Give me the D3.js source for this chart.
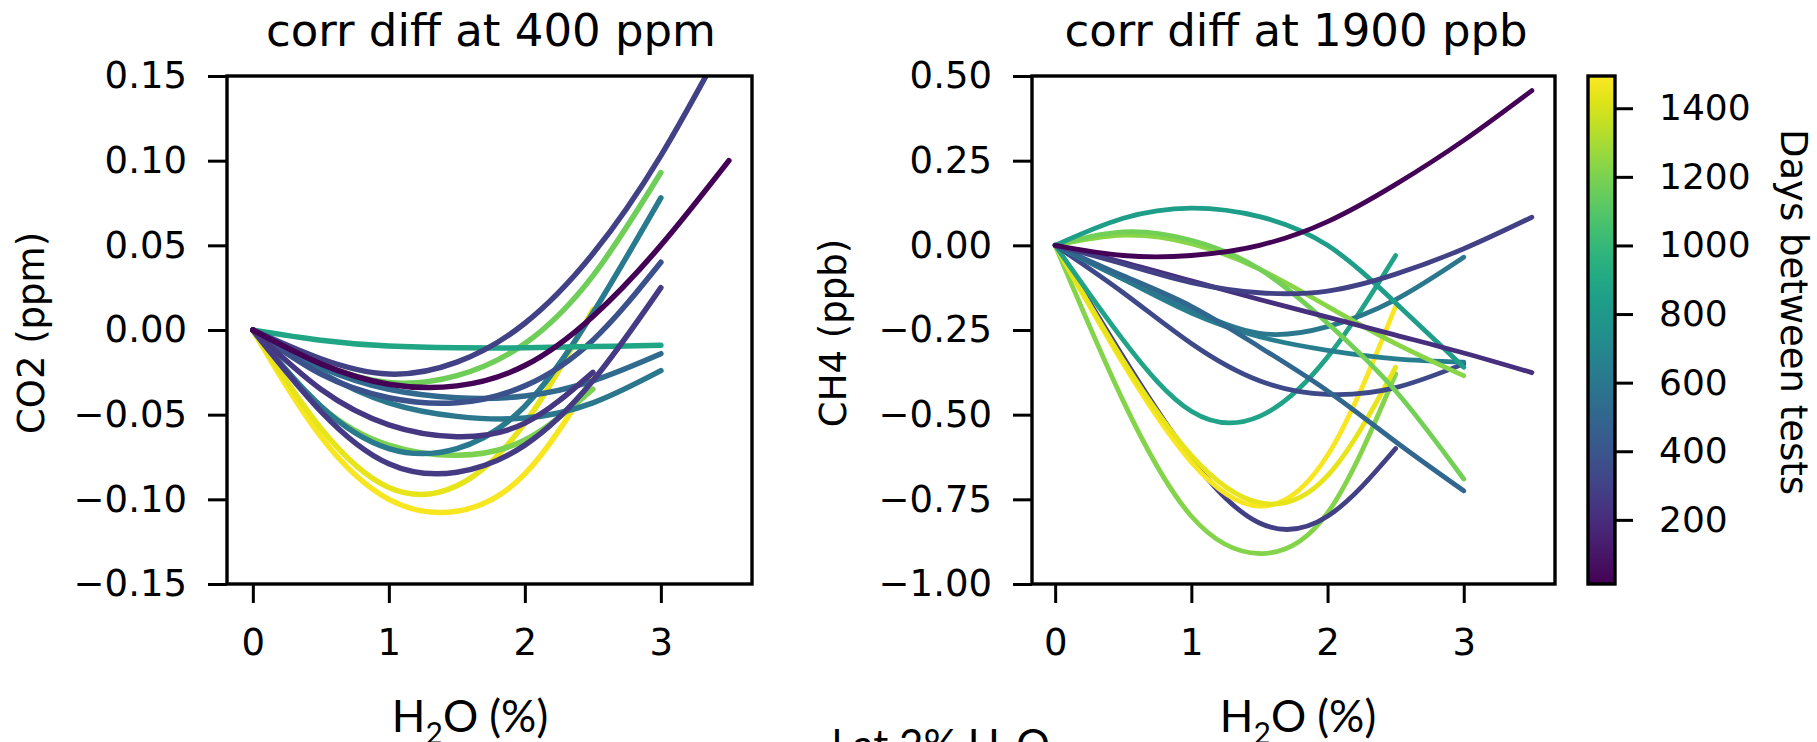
<!DOCTYPE html>
<html>
<head>
<meta charset="utf-8">
<script src="https://cdn.jsdelivr.net/npm/d3@7"></script>
<style>
body { margin: 0; background: #fff; }
svg { display: block; }
</style>
</head>
<body>
<svg></svg>
<script>
let width = 1817
let height = 742

// water steps the fits are read at (%)
let h2o = [0, 0.5, 1, 1.5, 2, 2.5, 3, 3.5]

// CO2 panel: days between tests and correction difference (ppm) at each h2o step
let co2Days = [1480, 1440, 1200, 1170, 620, 600, 520, 380, 890, 250, 270, 300, 20]
let co2Diff = [
    [0, -0.063, -0.100, -0.107, -0.085, -0.028],
    [0, -0.058, -0.093, -0.092, -0.055, 0.012],
    [0, -0.045, -0.068, -0.074, -0.065, -0.035],
    [0, -0.020, -0.031, -0.027, -0.008, 0.032, 0.093],
    [0, -0.045, -0.070, -0.070, -0.045, 0.010, 0.078],
    [0, -0.025, -0.043, -0.051, -0.052, -0.043, -0.024],
    [0, -0.022, -0.035, -0.040, -0.039, -0.030, -0.014],
    [0, -0.026, -0.040, -0.043, -0.033, -0.006, 0.040],
    [0, -0.006, -0.0095, -0.0105, -0.0105, -0.0098, -0.009],
    [0, -0.035, -0.056, -0.063, -0.055, -0.025],
    [0, -0.048, -0.079, -0.084, -0.068, -0.030, 0.025],
    [0, -0.017, -0.026, -0.019, 0.004, 0.045, 0.103, 0.175],
    [0, -0.020, -0.032, -0.033, -0.021, 0.008, 0.050, 0.100]
]

// CH4 panel: days between tests and correction difference (ppb)
let ch4Days = [1220, 290, 1480, 1440, 870, 340, 640, 600, 500, 1230, 1180, 830, 220, 300, 20]
let ch4Diff = [
    [0, -0.46, -0.80, -0.91, -0.79, -0.38],
    [0, -0.33, -0.63, -0.82, -0.80, -0.60],
    [0, -0.35, -0.64, -0.77, -0.62, -0.18],
    [0, -0.34, -0.62, -0.76, -0.68, -0.36],
    [0, -0.28, -0.49, -0.505, -0.33, -0.03],
    [0, -0.14, -0.29, -0.40, -0.44, -0.42, -0.35],
    [0, -0.10, -0.20, -0.27, -0.31, -0.335, -0.345],
    [0, -0.10, -0.19, -0.26, -0.24, -0.16, -0.035],
    [0, -0.09, -0.18, -0.30, -0.43, -0.58, -0.725],
    [0, 0.03, 0.005, -0.07, -0.18, -0.29, -0.385],
    [0, 0.04, 0.015, -0.07, -0.23, -0.43, -0.69],
    [0, 0.08, 0.11, 0.085, 0.0, -0.17, -0.36],
    [0, -0.05, -0.105, -0.16, -0.212, -0.265, -0.318, -0.376],
    [0, -0.055, -0.11, -0.14, -0.135, -0.085, -0.01, 0.083],
    [0, -0.03, -0.03, 0.0, 0.07, 0.18, 0.31, 0.457]
]

let h2oTicks = [0, 1, 2, 3]
let co2Ticks = [-0.15, -0.10, -0.05, 0, 0.05, 0.10, 0.15]
let ch4Ticks = [-1.0, -0.75, -0.5, -0.25, 0, 0.25, 0.5]
let dayTicks = [200, 400, 600, 800, 1000, 1200, 1400]
let dayRange = [13, 1494]

let svg = d3.select('svg').attr('width', width).attr('height', height)
let color = d3.scaleSequential(d3.interpolateViridis).domain(dayRange)
let mplFont = 'DejaVu Sans'

let drawPanel = (opt) => {
    let x = d3.scaleLinear().domain(opt.xDomain).range([opt.left, opt.right])
    let y = d3.scaleLinear().domain(opt.yDomain).range([584, 76])

    let clipId = 'clip' + opt.id
    svg.append('clipPath').attr('id', clipId)
        .append('rect')
        .attr('x', opt.left).attr('y', 76)
        .attr('width', opt.right - opt.left).attr('height', 508)

    let line = d3.line()
        .x(d => x(d[0]))
        .y(d => y(d[1]))
        .curve(d3.curveNatural)

    svg.append('g')
        .attr('clip-path', 'url(#' + clipId + ')')
        .selectAll('path')
        .data(opt.values)
        .enter()
        .append('path')
        .attr('d', vals => line(vals.map((v, i) => [h2o[i], v])))
        .attr('fill', 'none')
        .attr('stroke', (vals, i) => color(opt.days[i]))
        .attr('stroke-width', opt.lw)
        .attr('stroke-linecap', 'round')

    // frame
    svg.append('rect')
        .attr('x', opt.left).attr('y', 76)
        .attr('width', opt.right - opt.left).attr('height', 508)
        .attr('fill', 'none').attr('stroke', '#000').attr('stroke-width', 3.4)

    let xAxis = d3.axisBottom(x).tickValues(h2oTicks).tickSize(19).tickPadding(26).tickFormat(d3.format('d'))
    let gx = svg.append('g')
        .attr('transform', 'translate(0,584)')
        .call(xAxis)
    let yAxis = d3.axisLeft(y).tickValues(opt.yTicks).tickSize(19).tickPadding(21).tickFormat(d3.format('.2f'))
    let gy = svg.append('g')
        .attr('transform', 'translate(' + opt.left + ',0)')
        .call(yAxis)

    for (let g of [gx, gy]) {
        g.select('.domain').remove()
        g.selectAll('line').attr('stroke', '#000').attr('stroke-width', 3)
        g.selectAll('text')
            .attr('fill', '#000')
            .style('font-family', mplFont)
            .style('font-size', '37px')
    }

    svg.append('text')
        .attr('x', opt.titleX).attr('y', 46)
        .attr('text-anchor', 'middle')
        .style('font-family', mplFont)
        .style('font-size', '45px')
        .text(opt.title)

    svg.append('text')
        .attr('transform', 'translate(' + opt.yLabelX + ',333) rotate(-90)')
        .attr('text-anchor', 'middle')
        .attr('dy', '0.35em')
        .style('font-family', mplFont)
        .style('font-size', '37px')
        .text(opt.yLabel)

    // slide text box under each panel
    let lab = svg.append('text')
        .attr('x', opt.h2oLabelX).attr('y', 732)
        .attr('text-anchor', 'middle')
        .style('font-family', 'Lato')
        .style('font-size', '44px')
    lab.append('tspan').text('H')
    lab.append('tspan').attr('dy', 12).style('font-size', '30px').text('2')
    lab.append('tspan').attr('dy', -12).text('O (%)')
}

drawPanel({
    id: 'co2', left: 227, right: 752, xDomain: [-0.19, 3.67], yDomain: [-0.15, 0.15],
    yTicks: co2Ticks, values: co2Diff, days: co2Days, lw: 5.5,
    title: 'corr diff at 400 ppm', titleX: 491, yLabel: 'CO2 (ppm)', yLabelX: 31, h2oLabelX: 470
})

drawPanel({
    id: 'ch4', left: 1032, right: 1555, xDomain: [-0.17, 3.67], yDomain: [-1.0, 0.5],
    yTicks: ch4Ticks, values: ch4Diff, days: ch4Days, lw: 4.8,
    title: 'corr diff at 1900 ppb', titleX: 1296, yLabel: 'CH4  (ppb)', yLabelX: 833, h2oLabelX: 1298
})

// colorbar
let cbLeft = 1588
let cbRight = 1615
let cbScale = d3.scaleLinear().domain(dayRange).range([584, 76])
let grad = svg.append('defs').append('linearGradient')
    .attr('id', 'viridisGrad')
    .attr('x1', 0).attr('y1', 1).attr('x2', 0).attr('y2', 0)
d3.range(0, 1.0001, 0.05).forEach(t => {
    grad.append('stop').attr('offset', t).attr('stop-color', d3.interpolateViridis(t))
})
svg.append('rect')
    .attr('x', cbLeft).attr('y', 76)
    .attr('width', cbRight - cbLeft).attr('height', 508)
    .attr('fill', 'url(#viridisGrad)')
    .attr('stroke', '#000').attr('stroke-width', 3.4)

let cbAxis = d3.axisRight(cbScale).tickValues(dayTicks).tickSize(18).tickPadding(26).tickFormat(d3.format('d'))
let gcb = svg.append('g')
    .attr('transform', 'translate(' + cbRight + ',0)')
    .call(cbAxis)
gcb.select('.domain').remove()
gcb.selectAll('line').attr('stroke', '#000').attr('stroke-width', 3)
gcb.selectAll('text')
    .attr('fill', '#000')
    .style('font-family', mplFont)
    .style('font-size', '36px')

svg.append('text')
    .attr('transform', 'translate(1794,312) rotate(90)')
    .attr('text-anchor', 'middle')
    .attr('dy', '0.35em')
    .style('font-family', mplFont)
    .style('font-size', '37px')
    .text('Days between tests')

// caption cut off at the bottom edge of the slide
let cap = svg.append('text')
    .attr('x', 832).attr('y', 760)
    .style('font-family', 'Lato')
    .style('font-size', '42px')
cap.append('tspan').text('l at 2% H')
cap.append('tspan').attr('dy', 10).style('font-size', '28px').text('2')
cap.append('tspan').attr('dy', -10).text('O')
</script>
</body>
</html>
